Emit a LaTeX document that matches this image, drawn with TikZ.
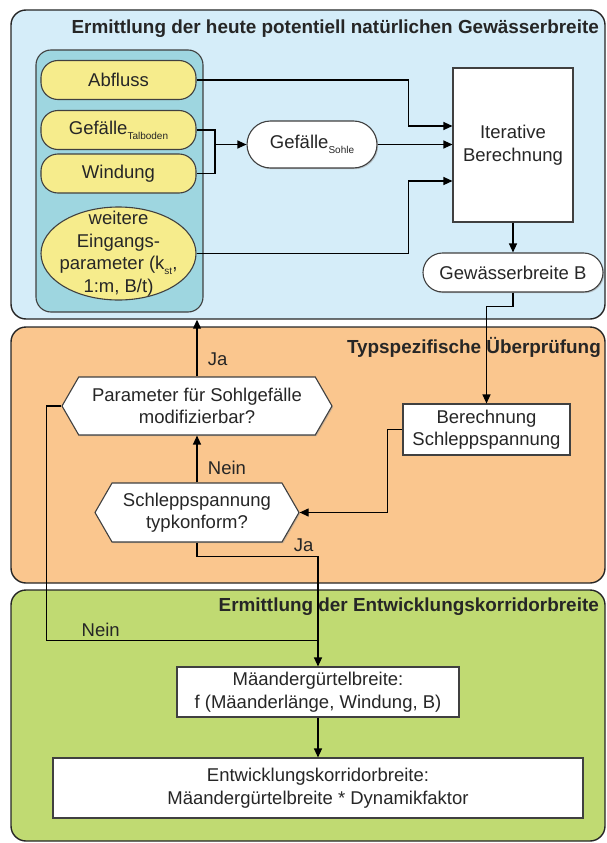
\documentclass[tikz,border=0pt]{standalone}
\usepackage{fontspec}
\setmainfont{Liberation Sans}
\usetikzlibrary{arrows.meta,shapes.geometric,shapes.symbols,shapes.misc,shadows}

\definecolor{panelblue}{RGB}{213,237,249}
\definecolor{inputteal}{RGB}{158,214,224}
\definecolor{inputyellow}{RGB}{246,236,140}
\definecolor{panelorange}{RGB}{250,198,142}
\definecolor{panelgreen}{RGB}{192,218,114}

\newcommand{\lowsub}[1]{\raisebox{-0.5ex}{\fontsize{10}{10}\selectfont #1}}

\tikzset{
  panel/.style={draw=black!85, line width=1.4pt, rounded corners=15pt, inner sep=0pt},
  paneltitle/.style={anchor=east, inner sep=0pt, font=\fontsize{18.9}{22}\selectfont\bfseries},
  inputbox/.style={draw=black!75, line width=1.1pt, fill=inputyellow, rounded corners=17pt,
    minimum width=155pt, minimum height=39pt, inner sep=0pt},
  pill/.style={draw=black!75, line width=1.1pt, fill=white, rounded rectangle, inner sep=0pt,
    drop shadow={shadow xshift=1.2pt, shadow yshift=-1.2pt, fill=black!40}},
  procbox/.style={draw=black!75, line width=1.1pt, fill=white, align=center, inner sep=0pt,
    drop shadow={shadow xshift=1.2pt, shadow yshift=-1.2pt, fill=black!40}},
  decision/.style={draw=black!75, line width=1.1pt, fill=white, signal, signal to=west and east,
    signal pointer angle=120, align=center, inner sep=0pt,
    drop shadow={shadow xshift=1.2pt, shadow yshift=-1.2pt, fill=black!40}},
  flow/.style={draw=black, line width=1.2pt, -{Triangle[length=9pt,width=8pt]}},
  line/.style={draw=black, line width=1.2pt},
}

\begin{document}
\begin{tikzpicture}[x=1pt, y=-1pt, every node/.style={font=\fontsize{18.5}{22.5}\selectfont, text=black!85}]
    \useasboundingbox (0,0) rectangle (606,843);

    % three panels
    \node[panel, fill=panelblue, minimum width=594pt, minimum height=309pt] (bluepanel) at (308,164.5) {};
    \node[panel, fill=panelorange, minimum width=594pt, minimum height=256pt] (orangepanel) at (308,455) {};
    \node[panel, fill=panelgreen, minimum width=594pt, minimum height=251pt] (greenpanel) at (308,715.5) {};
    \node[paneltitle] (bluetitle) at (599,29) {Ermittlung der heute potentiell natürlichen Gewässerbreite};
    \node[paneltitle] (orangetitle) at (601,347) {Typspezifische Überprüfung};
    \node[paneltitle] (greentitle) at (599,607) {Ermittlung der Entwicklungskorridorbreite};

    % inputs
    \draw[draw=black!75, line width=1.1pt, fill=inputteal, rounded corners=15pt] (36,50) rectangle (203,312);
    \node[inputbox] (abfluss) at (118.5,80) {Abfluss};
    \node[inputbox] (talboden) at (118.5,130) {Gefälle\lowsub{Talboden}};
    \node[inputbox] (windung) at (118.5,173.5) {Windung};
    \node[ellipse, draw=black!75, line width=1.1pt, fill=inputyellow, minimum width=155pt, minimum height=93pt] (weitere) at (118.5,253.5) {};
    \node[align=center] (weiteretext) at (weitere) {weitere\\Eingangs-\\parameter (k\lowsub{st},\\1:m, B/t)};

    \node[pill, minimum width=130pt, minimum height=47pt] (sohle) at (312,144.5) {Gefälle\lowsub{Sohle}};
    \node[procbox, minimum width=120pt, minimum height=154pt] (iter) at (513,145) {Iterative\\Berechnung};
    \node[pill, minimum width=180pt, minimum height=39pt] (breite) at (513,272.5) {Gewässerbreite B};

    % check
    \node[procbox, minimum width=167pt, minimum height=51pt] (berech) at (486.5,429.5) {Berechnung\\Schleppspannung};
    \node[decision, minimum width=270pt, minimum height=58pt] (param) at (197,406) {Parameter für Sohlgefälle\\modifizierbar?};
    \node[decision, minimum width=204pt, minimum height=59pt] (schlepp) at (197,512.5) {Schleppspannung\\typkonform?};

    % corridor
    \node[procbox, minimum width=282pt, minimum height=50pt] (maeander) at (318,692) {Mäandergürtelbreite:\\f (Mäanderlänge, Windung, B)};
    \node[procbox, minimum width=530pt, minimum height=60pt] (korridor) at (318,788) {Entwicklungskorridorbreite:\\Mäandergürtelbreite * Dynamikfaktor};

    % connectors
    \coordinate (join) at (215,0);
    \draw[flow] (abfluss.east) -| ([xshift=-44pt,yshift=19pt]iter.west) -- ([yshift=19pt]iter.west);
    \draw[flow] (sohle.east) -- (sohle.east -| iter.west);
    \draw[flow] (weitere.east) -| ([xshift=-44pt,yshift=-36pt]iter.west) -- ([yshift=-36pt]iter.west);
    \draw[line] (talboden.east) -| (join |- windung.east) -- (windung.east);
    \draw[flow] (join |- sohle.west) -- (sohle.west);
    \draw[flow] (iter.south) -- (breite.north);
    \draw[flow] (breite.south) -- ++(0,14) -| (berech.north);
    \draw[flow] (berech.west) -- ++(-15,0) |- (schlepp.east);
    \draw[flow] (schlepp.north) -- (param.south) node[pos=0.3, right=7pt] {Nein};
    \draw[flow] (param.north) -- (param.north |- bluepanel.south) node[pos=0.3, right=7pt] {Ja};
    \draw[flow] (schlepp.south) -- ++(0,14) -| (maeander.north) node[pos=0.5, anchor=south east, inner sep=4pt] {Ja};
    \draw[line] (param.west) -- ++(-15,0) |- ([yshift=26pt]maeander.north) node[pos=0.6, above] {Nein};
    \draw[flow] (maeander.south) -- (korridor.north);
\end{tikzpicture}
\end{document}
